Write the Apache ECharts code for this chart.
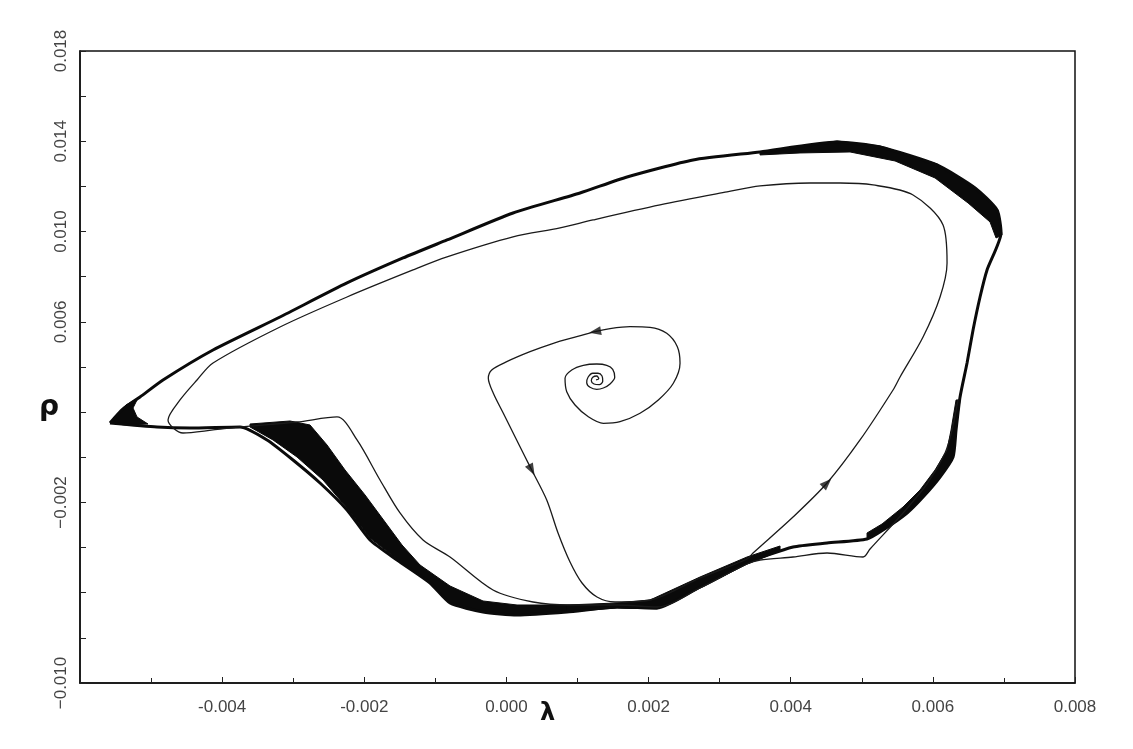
<!DOCTYPE html>
<html><head><meta charset="utf-8">
<script src="https://cdn.jsdelivr.net/npm/echarts@6/dist/echarts.min.js"></script>
<style>html,body{margin:0;padding:0;background:#fff}#c{width:1133px;height:749px}</style>
</head><body><div id="c"></div>
<script>
// All λ and ρ values below are in units of 10^-3 (axis tick labels show real values).
const xTickValues = [-4, -2, 0, 2, 4, 6, 8];
const xTickLabels = ['-0.004', '-0.002', '0.000', '0.002', '0.004', '0.006', '0.008'];
const yTickValues = [18, 14, 10, 6, -2, -10];
const yTickLabels = ['0.018', '0.014', '0.010', '0.006', '\u22120.002', '\u22120.010'];

// transient trajectory: spiral out of the focus, then first loops
const transLam = [1.2608,1.2988,1.2706,1.2143,1.1946,1.2326,1.3072,1.3550,1.3452,1.2889,
  1.2143,1.1482,1.1299,1.1763,1.2706,1.3635,1.4578,1.5239,1.4957,1.4113,
  1.2706,1.0821,0.9188,0.8246,0.8485,0.9653,1.1524,1.3635,1.5985,1.8799,
  2.1374,2.3485,2.4427,2.4047,2.2556,2.0206,1.7392,1.4578,1.2467,0.9892,
  0.6599,0.3321,0.0042,-0.2068,-0.2547,-0.1843,-0.0436,0.1210,0.2617,0.3560,
  0.5671,0.7261,0.8949,1.0638,1.2748,1.5281,
  2.0206,2.7241,3.3855,
  3.4699,4.0327,4.5112,4.9755,5.4398,
  5.5384,5.8620,6.1012,6.1997,6.1434,5.7213,5.1584,4.6941,4.2720,3.5684,3.1041,2.1613,1.2185,0.7542,0.0929,-0.8358,-1.3142,-2.2429,-3.1857,-4.1284,-4.3536,-4.5928,-4.7616,
  -4.5506,-4.1284,-3.7485,-2.9465,-2.3836,-2.1022,-1.7786,-1.4972,-1.1735,-0.7936,-0.1886,0.3743,0.8949,
  1.5563,2.1191,2.7241,3.3855,
  3.5684,4.0327,4.5112,5.0177,5.1162,
  5.5806,5.9183,6.1715,6.2701,6.3545];
const transRho = [3.425,3.483,3.602,3.545,3.394,3.248,3.217,3.367,3.602,3.722,
  3.722,3.545,3.305,3.101,3.013,3.070,3.248,3.545,3.899,4.076,
  4.134,4.076,3.868,3.500,2.907,2.317,1.799,1.506,1.577,1.950,
  2.539,3.279,4.165,4.900,5.494,5.760,5.786,5.698,5.565,5.343,
  5.051,4.679,4.236,3.868,3.500,2.836,1.950,0.913,0.027,-0.563,
  -1.892,-3.354,-4.639,-5.569,-6.190,-6.411,
  -6.323,-5.348,-4.506,
  -4.240,-2.645,-1.139,0.767,2.982,
  3.558,5.330,7.102,8.609,10.293,11.622,12.065,12.153,12.153,12.020,11.755,11.179,10.514,10.160,9.761,8.875,8.299,7.102,5.773,4.178,3.425,2.539,1.653,
  1.077,1.210,1.343,1.564,1.786,0.767,-1.006,-2.468,-3.664,-4.417,-5.880,-6.411,-6.544,
  -6.544,-6.633,-5.791,-4.728,
  -4.550,-4.417,-4.240,-4.417,-4.063,
  -2.468,-1.183,0.191,1.210,2.539];

// limit cycle (outer edge of the dark band)
const cycleLam = [-5.5777,-5.3948,-5.1556,-4.8320,-4.1284,-3.1857,-2.2429,-1.4549,-0.8358,0.0929,
  1.0356,1.6970,2.6256,3.5684,4.6519,5.2569,6.0590,6.5937,6.9032,6.9595,
  6.7625,6.6640,6.5655,6.4811,6.3826,6.3263,6.2841,6.1012,5.8620,5.6368,
  5.2991,5.0740,4.5112,4.0327,3.3855,2.7241,2.1191,1.5563,0.8527,0.1492,
  -0.3293,-0.7936,-1.0750,-1.5394,-1.9193,-2.2429,-2.6228,-3.0028,-3.3686,-3.7485,
  -4.4521,-4.9164,-5.5777];
const cycleRho = [1.520,2.140,2.672,3.425,4.754,6.216,7.723,8.830,9.628,10.824,
  11.710,12.419,13.172,13.527,13.970,13.748,12.951,11.932,10.957,9.938,
  8.299,7.102,5.640,4.178,2.672,1.210,0.013,-0.873,-1.759,-2.468,
  -3.221,-3.620,-3.797,-3.974,-4.683,-5.747,-6.677,-6.633,-6.854,-6.987,
  -6.854,-6.455,-5.569,-4.550,-3.664,-2.335,-1.139,-0.120,0.767,1.343,
  1.298,1.343,1.520];

// dark band regions (outlines of the densely packed loops)
const bandDiagLam = [-3.6078,-3.2842,-2.9465,-2.5806,-2.2429,-1.9193,-1.5394,-1.0750,-0.7936,-0.3293,0.1492,0.8527,
  0.8527,0.1492,-0.3293,-0.7936,-1.2157,-1.4690,-1.7082,-1.9896,-2.2711,-2.5243,-2.7635,-3.0450,-3.6078];
const bandDiagRho = [1.343,0.767,0.013,-1.006,-2.246,-3.576,-4.506,-5.569,-6.455,-6.854,-6.987,-6.854,
  -6.544,-6.544,-6.367,-5.702,-4.772,-3.886,-2.867,-1.670,-0.563,0.545,1.431,1.608,1.475];
const bandBottomLam = [0.8527,1.5563,2.1191,2.7241,3.3855,3.8498,3.8498,3.3855,2.7241,2.0206,1.5563,0.8527];
const bandBottomRho = [-6.854,-6.677,-6.721,-5.791,-4.728,-4.152,-3.930,-4.417,-5.304,-6.323,-6.455,-6.544];
const bandTipLam = [-5.5777,-5.4652,-5.3526,-5.1838,-5.2541,-5.1978,-5.0431,-5.3667];
const bandTipRho = [1.520,1.918,2.317,2.627,2.184,1.786,1.475,1.431];
const bandTopLam = [3.5684,4.6519,5.2569,6.0590,6.5937,6.9173,6.9736,6.8892,6.8047,6.4952,6.0308,5.4680,4.8348,4.1312,3.5684];
const bandTopRho = [13.527,14.014,13.793,12.995,11.976,10.957,9.849,9.717,10.425,11.267,12.375,13.128,13.527,13.483,13.394];
const bandRightLam = [6.3826,6.3263,6.2841,6.1012,5.8620,5.6368,5.2991,5.0740,5.0740,5.2851,5.5806,5.8198,6.0308,6.1997,6.2560,6.3263];
const bandRightRho = [2.539,1.210,0.013,-0.873,-1.759,-2.468,-3.221,-3.620,-3.354,-2.955,-2.202,-1.449,-0.563,0.323,1.210,2.539];

// direction arrows on the transient
const arrowLam = [1.2467, 0.3560, 4.5112];
const arrowRho = [5.565, -0.563, -1.139];
const arrowAngle = [100, 208, 315];

const zip = (a, b) => a.map((v, i) => [v, b[i]]);
function label(values, labels) {
  return v => { const i = values.findIndex(t => Math.abs(t - v) < 1e-6); return i < 0 ? '' : labels[i]; };
}
function band(lam, rho) {
  const pts = zip(lam, rho);
  return {
    type: 'custom', coordinateSystem: 'cartesian2d', silent: true, z: 3,
    data: [pts[0]],
    renderItem: (params, api) => ({
      type: 'polygon',
      shape: { points: pts.map(p => api.coord(p)) },
      style: { fill: '#0a0a0a', stroke: '#0a0a0a', lineWidth: 1 }
    })
  };
}
const font = 'Liberation Sans';
const chart = echarts.init(document.getElementById('c'), null, { renderer: 'canvas' });
chart.setOption({
  animation: false,
  backgroundColor: '#fff',
  grid: { left: 80, right: 58, top: 51, bottom: 66, show: true, borderColor: '#111', borderWidth: 1.5 },
  xAxis: {
    type: 'value', min: -6, max: 8, interval: 2,
    axisLine: { show: true, onZero: false, lineStyle: { color: '#111', width: 1.5 } },
    axisTick: { show: true, inside: true, length: 6, lineStyle: { color: '#222' } },
    minorTick: { show: true, splitNumber: 2, length: 5, lineStyle: { color: '#222' } },
    splitLine: { show: false },
    axisLabel: { formatter: label(xTickValues, xTickLabels), margin: 16, fontSize: 17, color: '#444', fontFamily: font, showMinLabel: true, showMaxLabel: true }
  },
  yAxis: {
    type: 'value', min: -10, max: 18, interval: 2,
    axisLine: { show: true, onZero: false, lineStyle: { color: '#111', width: 1.5 } },
    axisTick: { show: true, inside: true, length: 6, lineStyle: { color: '#222' } },
    splitLine: { show: false },
    axisLabel: { formatter: label(yTickValues, yTickLabels), rotate: 90, margin: 10, fontSize: 17, color: '#444', fontFamily: font, showMinLabel: true, showMaxLabel: true }
  },
  graphic: [
    { type: 'text', left: 39, top: 394, style: { text: 'ρ', font: 'bold 28px "DejaVu Sans"', fill: '#111' } },
    { type: 'text', left: 540, top: 702, style: { text: 'λ', font: 'bold 24px "DejaVu Sans"', fill: '#111' } }
  ],
  series: [
    band(bandDiagLam, bandDiagRho),
    band(bandBottomLam, bandBottomRho),
    band(bandTipLam, bandTipRho),
    band(bandTopLam, bandTopRho),
    band(bandRightLam, bandRightRho),
    { type: 'line', data: zip(cycleLam, cycleRho), showSymbol: false, smooth: 0.2, silent: true, z: 4,
      lineStyle: { color: '#0a0a0a', width: 3 } },
    { type: 'line', data: zip(transLam, transRho), showSymbol: false, smooth: 0.3, silent: true, z: 5,
      lineStyle: { color: '#1a1a1a', width: 1.3 } },
    { type: 'scatter', symbol: 'triangle', symbolSize: [9, 12], silent: true, z: 6,
      itemStyle: { color: '#111' },
      data: arrowLam.map((v, i) => ({ value: [v, arrowRho[i]], symbolRotate: arrowAngle[i] })) }
  ]
});
</script></body></html>
